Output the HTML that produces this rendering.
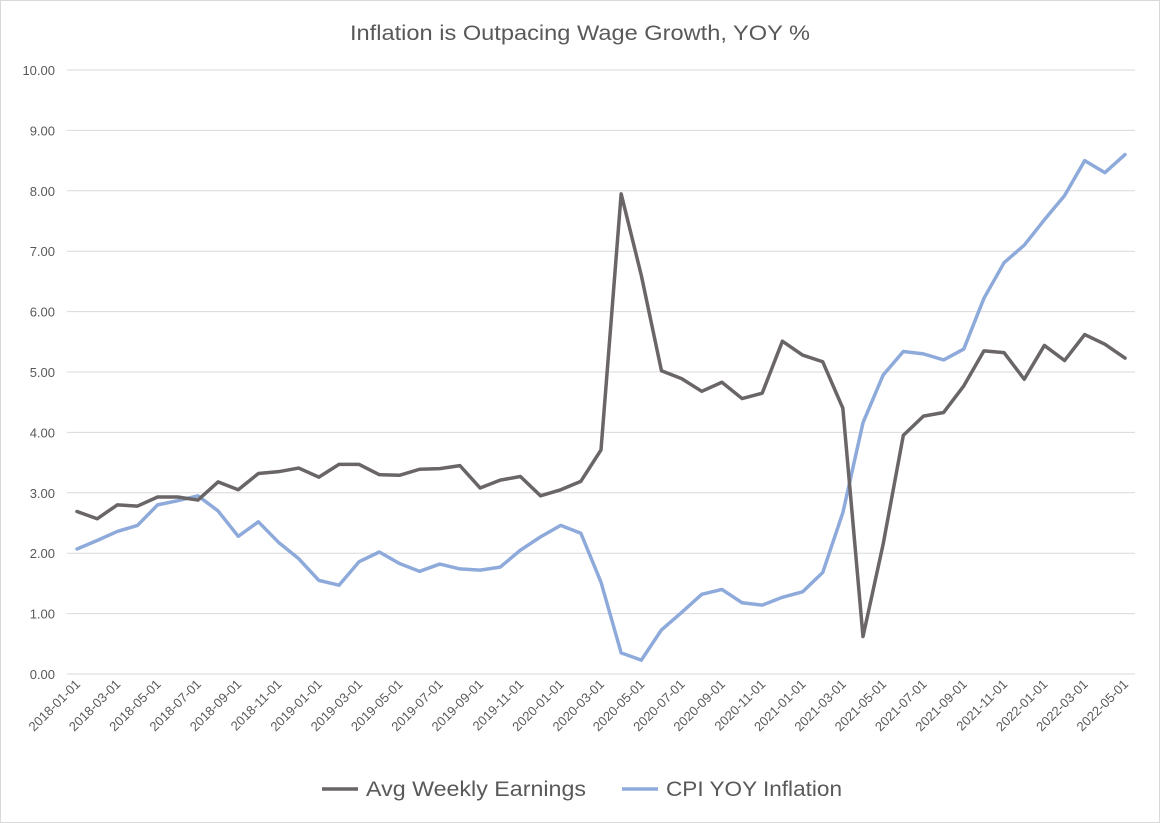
<!DOCTYPE html>
<html><head><meta charset="utf-8"><style>
html,body{margin:0;padding:0;background:#fff;}
svg{display:block;font-family:"Liberation Sans",sans-serif;}
</style></head><body>
<svg id="chart" width="1160" height="823" viewBox="0 0 1160 823" xmlns="http://www.w3.org/2000/svg">
<rect x="0.5" y="0.5" width="1159" height="822" fill="#fff" stroke="#d9d9d9"/>
<text x="350" y="40" textLength="460" lengthAdjust="spacingAndGlyphs" font-size="21" fill="#595959">Inflation is Outpacing Wage Growth, YOY %</text>
<g id="grid"></g><g id="yticks"></g><g id="xticks"></g><g id="series"></g>
<g>
<line x1="322" y1="789" x2="358" y2="789" stroke="#6a6566" stroke-width="3.5"/>
<text x="366" y="796" font-size="21" textLength="220" lengthAdjust="spacingAndGlyphs" fill="#595959">Avg Weekly Earnings</text>
<line x1="622" y1="789" x2="658" y2="789" stroke="#8eaadb" stroke-width="3.5"/>
<text x="666" y="796" font-size="21" textLength="176" lengthAdjust="spacingAndGlyphs" fill="#595959">CPI YOY Inflation</text>
</g>
</svg>
<script>
const yTicks=[0,1,2,3,4,5,6,7,8,9,10];
const startYear=2018, startMonth=1, monthCount=53;
const earnings=[2.69,2.57,2.80,2.78,2.93,2.93,2.88,3.18,3.05,3.32,3.35,3.41,3.26,3.47,3.47,3.30,3.29,3.39,3.40,3.45,3.08,3.21,3.27,2.95,3.05,3.19,3.71,7.95,6.6,5.02,4.89,4.68,4.83,4.56,4.65,5.51,5.28,5.17,4.40,0.62,2.15,3.95,4.27,4.33,4.77,5.35,5.32,4.88,5.44,5.19,5.62,5.46,5.23];
const cpi=[2.07,2.21,2.36,2.46,2.80,2.87,2.95,2.70,2.28,2.52,2.18,1.91,1.55,1.47,1.86,2.02,1.83,1.70,1.82,1.74,1.72,1.77,2.05,2.27,2.46,2.33,1.52,0.35,0.23,0.73,1.02,1.32,1.40,1.18,1.14,1.27,1.36,1.68,2.67,4.16,4.95,5.34,5.30,5.20,5.38,6.22,6.81,7.10,7.52,7.92,8.50,8.30,8.60];
const NS="http://www.w3.org/2000/svg";
const X0=77,X1=1125,Y0=674,Y10=70;
const x=i=>X0+(X1-X0)*i/(monthCount-1);
const y=v=>Y0+(Y10-Y0)*v/10;
function mk(t,a,p){const e=document.createElementNS(NS,t);for(const k in a)e.setAttribute(k,a[k]);p.appendChild(e);return e;}
const grid=document.getElementById('grid'),yt=document.getElementById('yticks'),xt=document.getElementById('xticks'),se=document.getElementById('series');
yTicks.forEach(v=>{
 const l=mk('line',{x1:67,x2:1135,y1:y(v),y2:y(v),stroke:'#d9d9d9','stroke-width':1},grid);
 
 
 const t=mk('text',{x:55,y:y(v)+5,'text-anchor':'end','font-size':13,fill:'#595959'},yt);
 
 
 t.textContent=v.toFixed(2);
});
for(let i=0;i<monthCount;i+=2){
 const m=startMonth-1+i, yr=startYear+Math.floor(m/12), mo=m%12+1;
 const lab=yr+'-'+String(mo).padStart(2,'0')+'-01';
 const px=x(i)+4, py=685;
 const t=mk('text',{x:px,y:py,'text-anchor':'end','font-size':13,fill:'#595959',transform:`rotate(-45 ${px} ${py})`},xt);
 
 
 t.textContent=lab;
}
function line(arr,color,name){
 const p=mk('polyline',{points:arr.map((v,i)=>x(i)+','+y(v)).join(' '),fill:'none',stroke:color,'stroke-width':3.5,'stroke-linejoin':'round','stroke-linecap':'round'},se);
 
 
}
line(cpi,'#8eaadb','cpi-line');
line(earnings,'#6a6566','earnings-line');
</script>
</body></html>
